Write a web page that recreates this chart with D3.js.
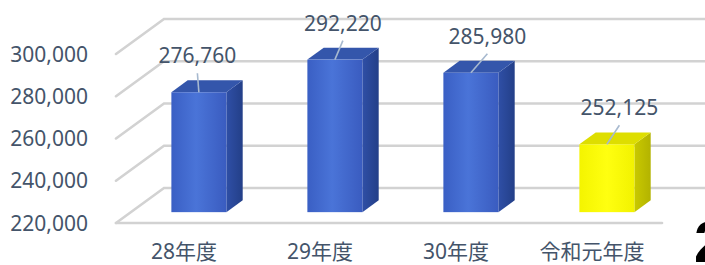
<!DOCTYPE html>
<html><head><meta charset="utf-8">
<script src="https://cdn.jsdelivr.net/npm/d3@7"></script>
<style>
body{margin:0;background:#fff;}
svg{display:block;}
text{font-family:"Noto Sans","Noto Sans CJK JP",sans-serif;fill:#44546A;}
</style></head>
<body>
<script>
// ---- data ----
const categories = ["28年度","29年度","30年度","令和元年度"];
const values = [276760, 292220, 285980, 252125];
const tickValues = [220000, 240000, 260000, 280000, 300000];
const highlight = [false, false, false, true];

// ---- layout ----
const W = 705, H = 265;
const svg = d3.select("body").append("svg").attr("width", W).attr("height", H);
const defs = svg.append("defs");

const x0 = 116, x1 = 660;           // front plane extent
const depthX = 48, depthY = -35;      // full depth offset
const y = d3.scaleLinear().domain([220000, 300000]).range([223, 54]);
const x = d3.scaleBand().domain(categories).range([x0, x1]).paddingInner(0).paddingOuter(0);
const P = (px, v, d) => [px + depthX * d, y(v) + depthY * d];

const barW = 55, dFront = 0.31, dBack = 0.65;
const gridColor = "#d2d2d2";

// gradients
function grad(id, stops){
  const g = defs.append("linearGradient").attr("id", id).attr("x1","0").attr("x2","1").attr("y1","0").attr("y2","0");
  stops.forEach(s => g.append("stop").attr("offset", s[0]).attr("stop-color", s[1]));
}
grad("blueFront", [[0,"#3a5fc4"],[0.45,"#4a74d8"],[1,"#3a5cc0"]]);
grad("blueSide", [[0,"#2f4fa6"],[1,"#233f88"]]);
grad("yelFront", [[0,"#f4f400"],[0.5,"#ffff10"],[1,"#f2f200"]]);
grad("yelSide", [[0,"#c9c900"],[1,"#b3b300"]]);

// ---- gridlines (back wall + left wall) ----
const grid = svg.append("g").attr("fill","none").attr("stroke", gridColor).attr("stroke-width", 2.6).attr("stroke-linecap","round");
tickValues.forEach(v => {
  const a = P(x0, v, 0), b = P(x0, v, 1), c = P(W + 10, v, 1);
  grid.append("path").attr("d", d3.line()([a, b, c]));
});
// floor front edge
grid.append("line").attr("x1", x0).attr("y1", y(220000)).attr("x2", x1 + 2).attr("y2", y(220000));

// ---- axis labels ----
const fmt = d3.format(",");
svg.append("g").selectAll("text").data(tickValues).join("text")
  .attr("x", 88).attr("y", v => y(v) + 7.5)
  .attr("text-anchor","end").attr("font-size", 21).text(v => fmt(v));

// ---- bars ----
const bars = svg.append("g");
values.forEach((v, i) => {
  const c = x(categories[i]) + x.bandwidth() / 2;
  const l = c - barW / 2, r = c + barW / 2;
  const fbl = P(l, 220000, dFront), fbr = P(r, 220000, dFront);
  const ftl = P(l, v, dFront), ftr = P(r, v, dFront);
  const btl = P(l, v, dBack), btr = P(r, v, dBack), bbr = P(r, 220000, dBack);
  const hl = highlight[i];
  // side
  bars.append("path").attr("d", d3.line()([fbr, ftr, btr, bbr]) + "Z")
    .attr("fill", hl ? "url(#yelSide)" : "url(#blueSide)");
  // top
  bars.append("path").attr("d", d3.line()([ftl, ftr, btr, btl]) + "Z")
    .attr("fill", hl ? "#dede00" : "#3456ab");
  // front
  bars.append("rect").attr("x", ftl[0]).attr("y", ftl[1]).attr("width", ftr[0] - ftl[0]).attr("height", fbl[1] - ftl[1])
    .attr("fill", hl ? "url(#yelFront)" : "url(#blueFront)");
});

// ---- data labels with leader lines ----
const labelOffsets = [-1.5, 8, 16.5, 12.5];
const labels = svg.append("g");
values.forEach((v, i) => {
  const c = x(categories[i]) + x.bandwidth() / 2 + depthX * dFront;
  const top = P(0, v, dFront)[1];
  const lx = c + labelOffsets[i], base = top - 29;
  labels.append("line").attr("x1", lx).attr("y1", base + 10).attr("x2", c).attr("y2", top)
    .attr("stroke", "#a7b9cf").attr("stroke-width", 1.6);
  labels.append("text").attr("x", lx).attr("y", base).attr("text-anchor","middle")
    .attr("font-size", 21).text(fmt(v));
});

// ---- category labels ----
svg.append("g").selectAll("text").data(categories).join("text")
  .attr("x", d => x(d) + x.bandwidth() / 2).attr("y", 259)
  .attr("text-anchor","middle").attr("font-size", 21).text(d => d);

// stray clipped text at the right edge
svg.append("text").attr("x", 694).attr("y", 262)
  .style("font-family", "'Liberation Sans', Arial, sans-serif").style("fill", "#000")
  .attr("font-weight", "bold").attr("font-size", 58).text("2");
</script>
</body></html>
